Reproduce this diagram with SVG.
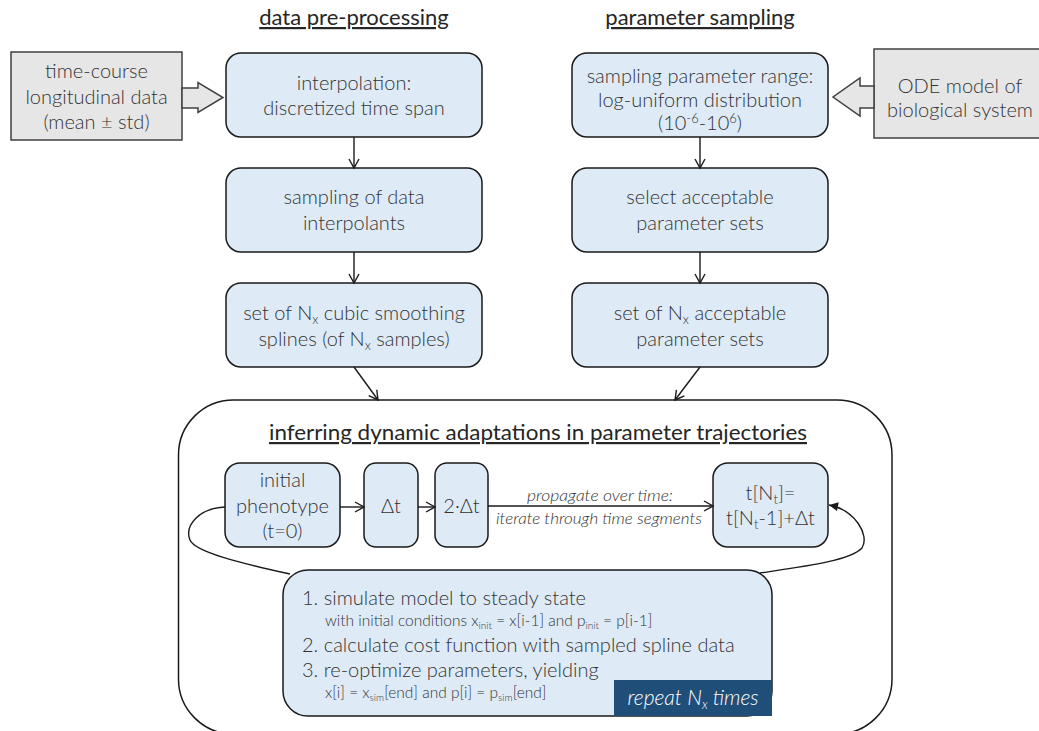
<svg xmlns="http://www.w3.org/2000/svg" width="1039" height="731" viewBox="0 0 1039 731">
<defs>
<style>
text{font-family:Lato,"Liberation Sans",sans-serif;fill:#333333;font-weight:300;}
.t{font-size:20px;text-anchor:middle;}
.title{font-size:22px;fill:#262626;text-decoration:underline;text-anchor:middle;font-weight:400;}
.blue{fill:#deebf7;stroke:#1a1a1a;stroke-width:1.5;}
.gray{fill:#e7e6e6;stroke:#404040;stroke-width:1.5;}
.ln{fill:none;stroke:#1a1a1a;stroke-width:1.4;}
.sm{font-size:15.5px;}
.big{font-size:20px;}
.it{font-style:italic;font-size:15px;text-anchor:middle;}
</style>
<marker id="open" markerWidth="12" markerHeight="12" refX="10" refY="6" orient="auto" markerUnits="userSpaceOnUse">
<path d="M1,1 L10,6 L1,11" fill="none" stroke="#1a1a1a" stroke-width="1.4"/>
</marker>
<marker id="fill" markerWidth="12" markerHeight="12" refX="10" refY="6" orient="auto" markerUnits="userSpaceOnUse">
<path d="M1,1.5 L10,6 L1,10.5 Z" fill="#1a1a1a"/>
</marker>
</defs>
<rect width="1039" height="731" fill="#ffffff"/>

<g id="title-pre"><text class="title" x="354" y="25">data pre-processing</text></g>
<g id="title-param"><text class="title" x="700" y="25">parameter sampling</text></g>

<g id="container">
<rect x="178.5" y="400" width="713.5" height="334" rx="55" fill="none" stroke="#1a1a1a" stroke-width="1.5"/>
<text class="title" x="538" y="440" textLength="538" lengthAdjust="spacingAndGlyphs">inferring dynamic adaptations in parameter trajectories</text>
</g>

<g id="data-input">
<rect class="gray" x="11" y="52" width="171" height="88"/>
<text class="t" x="96.5" y="78">time-course</text>
<text class="t" x="96.5" y="104">longitudinal data</text>
<text class="t" x="96.5" y="129">(mean ± std)</text>
<polygon class="gray" points="182,88 198,88 198,82.5 223,97.5 198,112.5 198,108 182,108"/>
</g>

<g id="ode-input">
<rect class="gray" x="874" y="49" width="180" height="89"/>
<text class="t" x="960" y="93">ODE model of</text>
<text class="t" x="960" y="117">biological system</text>
<polygon class="gray" points="874,86 860,86 860,78 833,97 860,116 860,108 874,108"/>
</g>

<g id="interp">
<rect class="blue" x="226" y="53" width="256" height="84" rx="15"/>
<text class="t" x="354" y="90">interpolation:</text>
<text class="t" x="354" y="115">discretized time span</text>
</g>
<g id="sampling-data">
<rect class="blue" x="226" y="168" width="256" height="84" rx="15"/>
<text class="t" x="354" y="204">sampling of data</text>
<text class="t" x="354" y="230">interpolants</text>
</g>
<g id="splines">
<rect class="blue" x="226" y="283" width="256" height="84" rx="15"/>
<text class="t" x="354" y="320">set of N<tspan dy="4" font-size="13">x</tspan><tspan dy="-4"> cubic smoothing</tspan></text>
<text class="t" x="354" y="346">splines (of N<tspan dy="4" font-size="13">x</tspan><tspan dy="-4"> samples)</tspan></text>
</g>

<g id="range">
<rect class="blue" x="572" y="53" width="256" height="84" rx="15"/>
<text class="t" x="700" y="83">sampling parameter range:</text>
<text class="t" x="700" y="107">log-uniform distribution</text>
<text class="t" x="700" y="130">(10<tspan dy="-7" font-size="13">-6</tspan><tspan dy="7">-10</tspan><tspan dy="-7" font-size="13">6</tspan><tspan dy="7">)</tspan></text>
</g>
<g id="select">
<rect class="blue" x="572" y="168" width="256" height="84" rx="15"/>
<text class="t" x="700" y="204">select acceptable</text>
<text class="t" x="700" y="230">parameter sets</text>
</g>
<g id="accepted">
<rect class="blue" x="572" y="283" width="256" height="84" rx="15"/>
<text class="t" x="700" y="320">set of N<tspan dy="4" font-size="13">x</tspan><tspan dy="-4"> acceptable</tspan></text>
<text class="t" x="700" y="346">parameter sets</text>
</g>

<g id="initial">
<rect class="blue" x="225" y="463" width="115" height="84" rx="15"/>
<text class="t" x="282.5" y="487">initial</text>
<text class="t" x="282.5" y="513">phenotype</text>
<text class="t" x="282.5" y="538">(t=0)</text>
</g>
<g id="dt1">
<rect class="blue" x="364" y="463" width="54" height="84" rx="12"/>
<text class="t" x="391" y="513">Δt</text>
</g>
<g id="dt2">
<rect class="blue" x="435" y="463" width="53" height="84" rx="12"/>
<text class="t" x="461.5" y="513">2·Δt</text>
</g>
<g id="tend">
<rect class="blue" x="713" y="463" width="115" height="84" rx="15"/>
<text class="t" x="770.5" y="500">t[N<tspan dy="4" font-size="13">t</tspan><tspan dy="-4">]=</tspan></text>
<text class="t" x="770.5" y="525">t[N<tspan dy="4" font-size="13">t</tspan><tspan dy="-4">-1]+Δt</tspan></text>
</g>

<g id="loop-box">
<rect class="blue" x="283" y="570" width="489" height="146" rx="25"/>
<text class="big" x="302" y="605">1. simulate model to steady state</text>
<text class="sm" x="325" y="626">with initial conditions x<tspan dy="3" font-size="10">init</tspan><tspan dy="-3"> = x[i-1] and p</tspan><tspan dy="3" font-size="10">init</tspan><tspan dy="-3"> = p[i-1]</tspan></text>
<text class="big" x="302" y="652">2. calculate cost function with sampled spline data</text>
<text class="big" x="302" y="677">3. re-optimize parameters, yielding</text>
<text class="sm" x="325" y="698">x[i] = x<tspan dy="3" font-size="10">sim</tspan><tspan dy="-3">[end] and p[i] = p</tspan><tspan dy="3" font-size="10">sim</tspan><tspan dy="-3">[end]</tspan></text>
<rect x="614" y="680" width="158" height="36" fill="#1f4e79"/>
<text x="693" y="705" font-size="21" font-style="italic" text-anchor="middle" style="fill:#ffffff">repeat N<tspan dy="4" font-size="13" style="fill:#ffffff">x</tspan><tspan dy="-4" style="fill:#ffffff"> times</tspan></text>
</g>

<g id="connectors">
<line class="ln" x1="354" y1="137" x2="354" y2="168" marker-end="url(#open)"/>
<line class="ln" x1="354" y1="252" x2="354" y2="283" marker-end="url(#open)"/>
<line class="ln" x1="700" y1="137" x2="700" y2="168" marker-end="url(#open)"/>
<line class="ln" x1="700" y1="252" x2="700" y2="283" marker-end="url(#open)"/>
<line class="ln" x1="354" y1="367" x2="378" y2="400" marker-end="url(#open)"/>
<line class="ln" x1="700" y1="367" x2="675" y2="400" marker-end="url(#open)"/>
<line class="ln" x1="340" y1="507" x2="364" y2="507" marker-end="url(#open)"/>
<line class="ln" x1="418" y1="507" x2="435" y2="507" marker-end="url(#open)"/>
<line class="ln" x1="488" y1="506" x2="713" y2="506" marker-end="url(#open)"/>
<text class="it" x="600" y="501" textLength="146" lengthAdjust="spacingAndGlyphs">propagate over time:</text>
<text class="it" x="599" y="524" textLength="206" lengthAdjust="spacingAndGlyphs">iterate through time segments</text>
<path class="ln" d="M225,507 C200,508 184,525 190,540 C195,552 240,563 290,574"/>
<path class="ln" d="M760,573 C800,567 850,561 862,548 C870,535 855,510 829,505" marker-end="url(#fill)"/>
</g>
</svg>
